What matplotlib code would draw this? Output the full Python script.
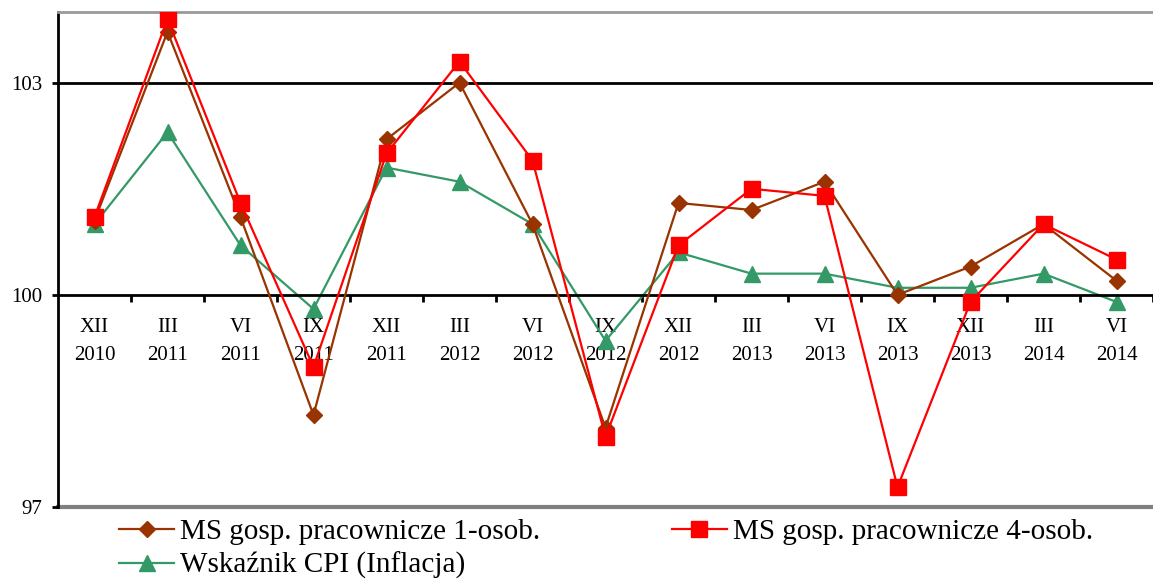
import matplotlib
matplotlib.use("Agg")
import matplotlib.pyplot as plt
from matplotlib.lines import Line2D

months = ["XII", "III", "VI", "IX", "XII", "III", "VI", "IX", "XII", "III", "VI", "IX", "XII", "III", "VI"]
years = ["2010", "2011", "2011", "2011", "2011", "2012", "2012", "2012", "2012", "2013", "2013", "2013", "2013", "2014", "2014"]
ms1 = [101.05, 103.72, 101.1, 98.3, 102.2, 103.0, 101.0, 98.12, 101.3, 101.2, 101.6, 100.0, 100.4, 101.0, 100.2]
ms4 = [101.1, 103.9, 101.3, 98.98, 102.0, 103.3, 101.9, 97.99, 100.7, 101.5, 101.4, 97.28, 99.9, 101.0, 100.5]
cpi = [101.0, 102.3, 100.7, 99.8, 101.8, 101.6, 101.0, 99.35, 100.6, 100.3, 100.3, 100.1, 100.1, 100.3, 99.9]
names = ["MS gosp. pracownicze 1-osob.", "MS gosp. pracownicze 4-osob.", "Wskaźnik CPI (Inflacja)"]
yticks = [97, 100, 103]

plt.rcParams['font.family'] = ['Liberation Serif', 'DejaVu Serif']

fig = plt.figure(figsize=(11.53, 5.79), dpi=100)
ax = fig.add_axes([58/1153, 1 - 507/579, 1 - 58/1153, (507 - 12)/579])

x = list(range(len(months)))
l1, = ax.plot(x, ms1, color='#993300', lw=1.6, marker='D', ms=8.5, zorder=3)
l2, = ax.plot(x, ms4, color='#FF0000', lw=1.6, marker='s', ms=11, zorder=4)
l3, = ax.plot(x, cpi, color='#339966', lw=1.6, marker='^', ms=11, zorder=2)

ax.set_ylim(97, 104)
ax.set_xlim(-0.5, -0.5 + 1095/73.8)
ax.set_yticks(yticks)
ax.set_yticklabels([str(v) for v in yticks], fontsize=15)
ax.tick_params(axis='y', direction='out', length=4.5, width=2, pad=7)

ax.axhline(103, color='black', lw=2, zorder=1)
ax.axhline(97, color='#808080', lw=3, zorder=1, clip_on=False)

ax.spines['bottom'].set_position(('data', 100))
ax.spines['bottom'].set_color('black')
ax.spines['bottom'].set_linewidth(2)
ax.spines['left'].set_linewidth(2)
ax.spines['top'].set_color('#999999')
ax.spines['top'].set_linewidth(2)
ax.spines['right'].set_visible(False)

ax.set_xticks(x)
ax.set_xticklabels([f"{m}\n{y}" for m, y in zip(months, years)], fontsize=15, linespacing=1.62)
ax.tick_params(axis='x', which='major', length=0, pad=17)
ax.set_xticks([i + 0.5 for i in x], minor=True)
ax.tick_params(axis='x', which='minor', direction='out', length=5, width=2)

leg = fig.legend([l1, l3, l2], [names[0], names[2], names[1]], ncol=2,
                 loc='upper left', bbox_to_anchor=(119/1153, 1 - 519/579),
                 frameon=False, fontsize=21, handlelength=1.9, handletextpad=0.2,
                 columnspacing=4.5, labelspacing=0.22, borderaxespad=0, borderpad=0)

fig.savefig("out.png", dpi=100)
